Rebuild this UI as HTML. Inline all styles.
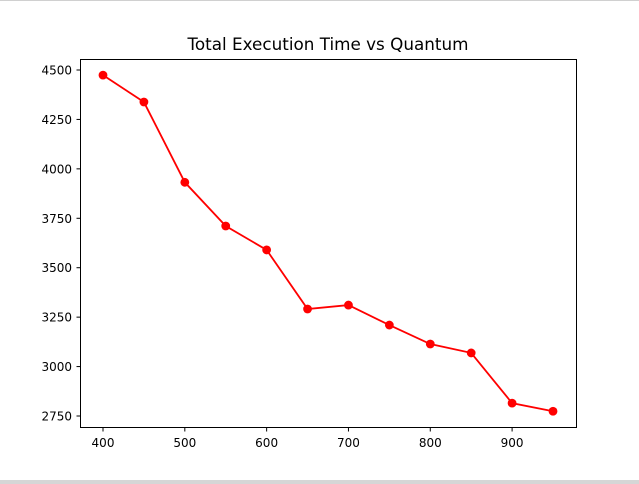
<!DOCTYPE html>
<html><head><meta charset="utf-8"><style>
html,body{margin:0;padding:0;background:#fff;}
svg{display:block;font-family:"DejaVu Sans","Liberation Sans",sans-serif;}
</style></head><body>
<svg id="chart" width="639" height="484">
<rect x="0" y="0" width="639" height="1" fill="#d0d0d0"/>
<rect x="0" y="480" width="639" height="4" fill="#d6d6d6"/>
<text x="328" y="50" text-anchor="middle" font-size="16.8" fill="#000">Total Execution Time vs Quantum</text>
<rect x="80.5" y="59.5" width="496" height="368" fill="none" stroke="#000" stroke-width="1"/>
<g id="xt"></g>
<g id="yt"></g>
<g id="series"></g>
</svg>
<script>
const quantum = [400,450,500,550,600,650,700,750,800,850,900,950];
const execTime = [4474,4338,3932,3711,3590,3291,3311,3210,3114,3069,2815,2774];
const xTicks = [400,500,600,700,800,900];
const yTicks = [2750,3000,3250,3500,3750,4000,4250,4500];
const NS="http://www.w3.org/2000/svg";
function sx(v){return 103+(v-400)*450/550;}
function sy(v){return 70+(4500-v)*346/1750;}
function mk(t,a,p){const e=document.createElementNS(NS,t);for(const k in a)e.setAttribute(k,a[k]);p.appendChild(e);return e;}
const xt=document.getElementById('xt'),yt=document.getElementById('yt'),s=document.getElementById('series');
xTicks.forEach(v=>{const x=sx(v);
const l=mk('line',{x1:x,x2:x,y1:428,y2:431.5,stroke:'#000'},xt);


const t=mk('text',{x:x,y:447,'text-anchor':'middle','font-size':'12'},xt);t.textContent=v;

});
yTicks.forEach(v=>{const y=sy(v);
const l=mk('line',{x1:76.5,x2:80,y1:y,y2:y,stroke:'#000'},yt);


const t=mk('text',{x:72,y:y+4.5,'text-anchor':'end','font-size':'12'},yt);t.textContent=v;

});
const pl=mk('polyline',{points:quantum.map((q,i)=>sx(q)+','+sy(execTime[i])).join(' '),fill:'none',stroke:'#ff0000','stroke-width':1.8},s);


quantum.forEach((q,i)=>{const c=mk('circle',{cx:sx(q),cy:sy(execTime[i]),r:4.4,fill:'#ff0000'},s);

});
</script>
</body></html>
